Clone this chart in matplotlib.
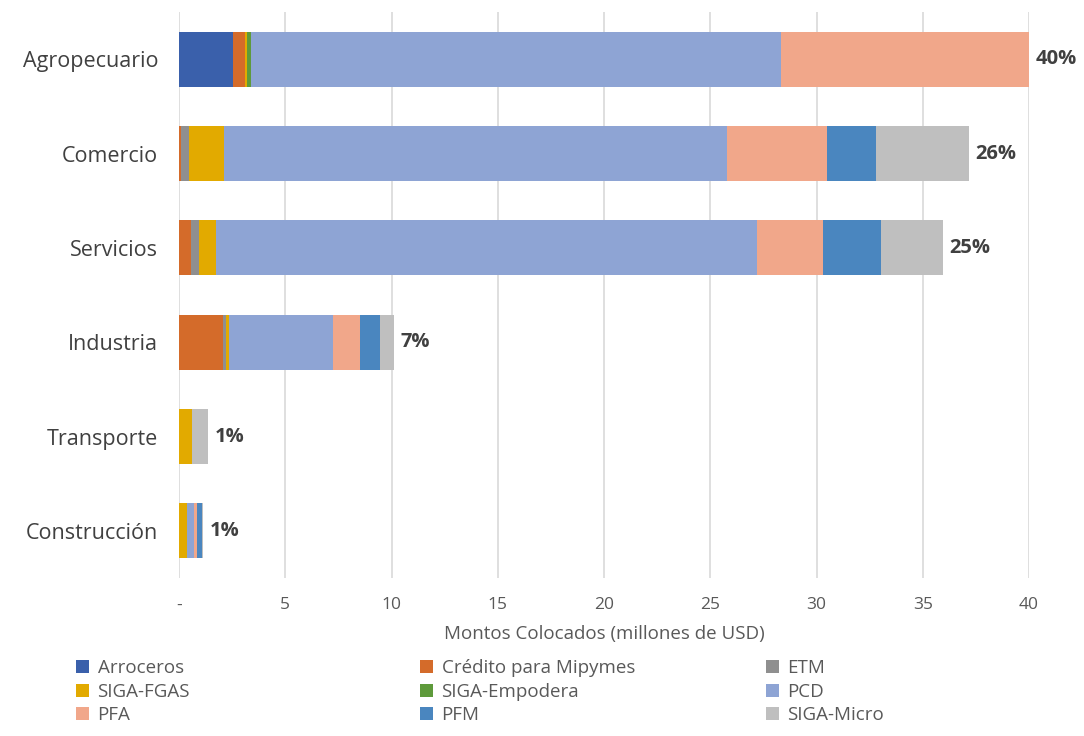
import matplotlib
matplotlib.use("Agg")
import matplotlib.pyplot as plt
from matplotlib.patches import Patch
import numpy as np

plt.rcParams['font.family'] = ['Open Sans', 'DejaVu Sans']

categories = ["Agropecuario", "Comercio", "Servicios", "Industria", "Transporte", "Construcción"]
series_names = ["Arroceros", "Crédito para Mipymes", "ETM", "SIGA-FGAS", "SIGA-Empodera",
                "PCD", "PFA", "PFM", "SIGA-Micro"]
arroceros = [2.56, 0.0, 0.0, 0.0, 0.0, 0.0]
credito   = [0.55, 0.10, 0.55, 2.09, 0.0, 0.0]
etm       = [0.0, 0.37, 0.41, 0.12, 0.0, 0.0]
siga_fgas = [0.10, 1.66, 0.77, 0.12, 0.63, 0.36]
empodera  = [0.19, 0.0, 0.0, 0.0, 0.0, 0.0]
pcd       = [24.93, 23.66, 25.47, 4.93, 0.0, 0.35]
pfa       = [11.67, 4.70, 3.10, 1.26, 0.0, 0.15]
pfm       = [0.0, 2.31, 2.73, 0.94, 0.0, 0.21]
siga_micro= [0.0, 4.38, 2.91, 0.67, 0.75, 0.07]
pct_labels = ["40%", "26%", "25%", "7%", "1%", "1%"]
xticks = [0, 5, 10, 15, 20, 25, 30, 35, 40]
xtick_labels = ["-", "5", "10", "15", "20", "25", "30", "35", "40"]

series = [arroceros, credito, etm, siga_fgas, empodera, pcd, pfa, pfm, siga_micro]
colors = ["#3A60AB", "#D46B2A", "#8F8F8F", "#E2AA00", "#5E9A3B",
          "#8EA4D4", "#F1A78A", "#4A86BF", "#BFBFBF"]

fig = plt.figure(figsize=(10.84, 7.36), dpi=100)
ax = fig.add_axes([179/1084, 1-578/736, (1029-179)/1084, (578-12)/736])

y = np.arange(len(categories))
left = np.zeros(len(categories))
for vals, c in zip(series, colors):
    v = np.array(vals)
    ax.barh(y, v, left=left, height=0.58, color=c, zorder=3)
    left += v

for yi, tot, lab in zip(y, left, pct_labels):
    ax.text(tot + 0.3, yi, lab, va='center', ha='left', fontsize=14.5,
            fontweight='bold', color='#404040', clip_on=False)

ax.set_xlim(0, 40)
ax.set_ylim(5.5, -0.5)
ax.set_yticks(y)
ax.set_yticklabels(categories, fontsize=15.5, color='#404040')
ax.set_xticks(xticks)
ax.set_xticklabels(xtick_labels, fontsize=12.5, color='#595959')
ax.tick_params(axis='both', length=0)
ax.tick_params(axis='y', pad=15)
ax.tick_params(axis='x', pad=14)
ax.grid(axis='x', color='#D9D9D9', linewidth=1.2, zorder=0)
for s in ax.spines.values():
    s.set_visible(False)
ax.set_xlabel("Montos Colocados (millones de USD)", fontsize=13.5, color='#595959', labelpad=8)

# legend, row-major in three columns
col_x = [76/1084, 420/1084, 766/1084]
for ci in range(3):
    idxs = [ci, ci + 3, ci + 6]
    handles = [Patch(facecolor=colors[i], edgecolor='none') for i in idxs]
    labels = [series_names[i] for i in idxs]
    leg = fig.legend(handles, labels, loc='upper left',
                     bbox_to_anchor=(col_x[ci], 1-659/736), frameon=False,
                     fontsize=13.5, handlelength=0.7, handleheight=0.7,
                     handletextpad=0.45, labelspacing=0.3, borderpad=0, borderaxespad=0)
    for t in leg.get_texts():
        t.set_color('#595959')

fig.savefig("out.png", dpi=100)
